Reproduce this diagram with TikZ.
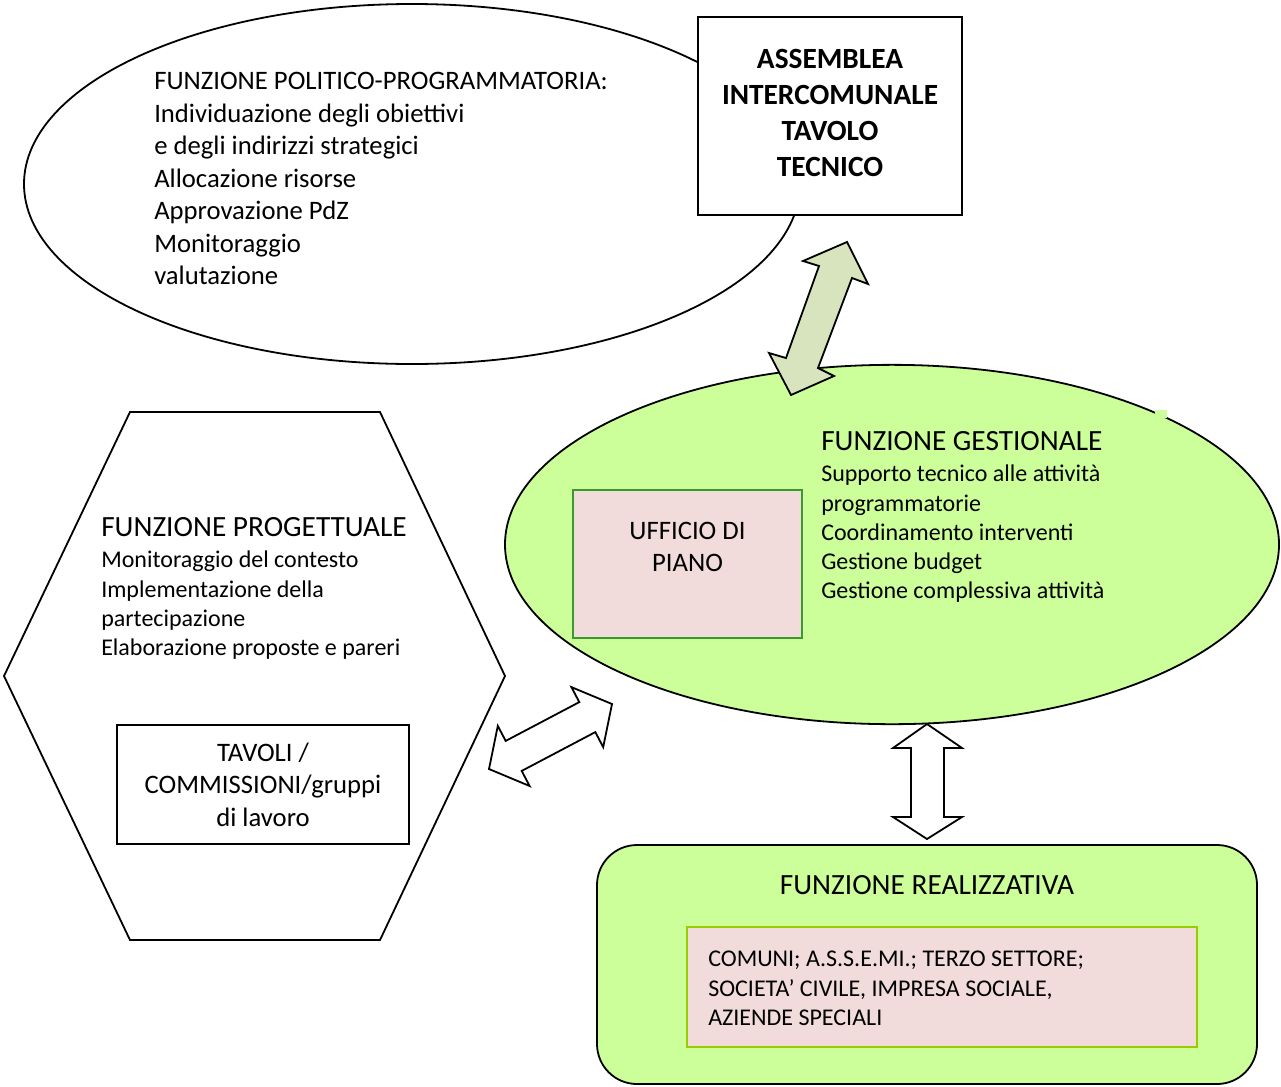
\documentclass[tikz,border=0pt]{standalone}
\usepackage{fontspec}
\setmainfont{Carlito}
\usetikzlibrary{shapes.geometric}
\definecolor{lgreen}{HTML}{CCFF99}
\definecolor{arrgreen}{HTML}{D7E4BD}
\definecolor{pinkbox}{HTML}{F2DCDB}
\definecolor{dgreen}{HTML}{3A9A2E}
\definecolor{ygreen}{HTML}{99CC00}
\tikzset{
  line/.style={draw=black, line width=1.35pt},
  txt/.style={inner sep=0pt, align=left, anchor=north west},
  big/.style={font=\fontsize{22}{24.4}\selectfont},
  mid/.style={font=\fontsize{20}{24.4}\selectfont},
  small/.style={font=\fontsize{18}{21.8}\selectfont},
  blockarrow/.style={line, line join=miter},
}
\begin{document}
\begin{tikzpicture}[x=0.75pt,y=-0.75pt]
\useasboundingbox (0,0) rectangle (1281,1086);
% political ellipse
\node[ellipse, line, fill=white, minimum width=582pt, minimum height=270pt, inner sep=0pt] (pol) at (412,184) {};
\node[txt, mid] (poltxt) at (154,72) {FUNZIONE POLITICO-PROGRAMMATORIA:\\Individuazione degli obiettivi\\e degli indirizzi strategici\\Allocazione risorse\\Approvazione PdZ\\Monitoraggio\\valutazione};
% assemblea
\node[rectangle, line, fill=white, minimum width=198pt, minimum height=148.5pt] (ass) at (830,116) {};
\node[align=center, inner sep=0pt, font=\bfseries\fontsize{22}{27}\selectfont] (asst) at (830,113) {ASSEMBLEA\\INTERCOMUNALE\\TAVOLO\\TECNICO};
% hexagon
\coordinate (h1) at (130,412);
\coordinate (h2) at (380,412);
\coordinate (h3) at (505,676);
\coordinate (h4) at (380,940);
\coordinate (h5) at (130,940);
\coordinate (h6) at (4,676);
\draw[line, fill=white, line join=miter] (h1) -- (h2) -- (h3) -- (h4) -- (h5) -- (h6) -- cycle;
\node[txt, big] (progt) at (101,517) {FUNZIONE PROGETTUALE};
\node[txt, small] (progl) at (101,551) {Monitoraggio del contesto\\Implementazione della\\partecipazione\\Elaborazione proposte e pareri};
\node[rectangle, line, fill=white, minimum width=219pt, minimum height=89.25pt, align=center,
  font=\fontsize{20}{24.5}\selectfont] (tav) at (263,784.5) {TAVOLI /\\COMMISSIONI/gruppi\\di lavoro};
% gestional ellipse
\node[ellipse, line, fill=lgreen, minimum width=580.5pt, minimum height=269.5pt, inner sep=0pt] (gest) at (892,544.5) {};
\fill[lgreen] (1155,410) rectangle (1167,418);
\node[rectangle, draw=dgreen, line width=1.2pt, fill=pinkbox, minimum width=171.75pt, minimum height=111pt] (uff) at (687.5,564) {};
\node[align=center, inner sep=0pt, font=\fontsize{20}{24}\selectfont] (ufft) at (687.5,547) {UFFICIO DI\\PIANO};
\node[txt, big] (gestt) at (821,431) {FUNZIONE GESTIONALE};
\node[txt, small] (gestl) at (821,465) {Supporto tecnico alle attività\\programmatorie\\Coordinamento interventi\\Gestione budget\\Gestione complessiva attività};
% realizzativa
\node[rectangle, rounded corners=30pt, line, fill=lgreen, minimum width=495pt, minimum height=179.25pt] (real) at (927,964.5) {};
\node[inner sep=0pt, font=\fontsize{22}{24}\selectfont] (realt) at (927,885) {FUNZIONE REALIZZATIVA};
\node[rectangle, draw=ygreen, line width=1.6pt, fill=pinkbox, minimum width=382.5pt, minimum height=90pt] (inn) at (942,987) {};
\node[txt, font=\fontsize{18}{22.1}\selectfont] (innt) at (708,951) {COMUNI; A.S.S.E.MI.; TERZO SETTORE;\\SOCIETA’ CIVILE, IMPRESA SOCIALE,\\AZIENDE SPECIALI};
% block arrows
\draw[blockarrow, fill=arrgreen] (847,242) -- (868,284) -- (852,278) -- (818,368) -- (834,376) -- (791,395) -- (769,353) -- (786,358) -- (819,266) -- (803,261) -- cycle;
\draw[blockarrow, fill=white] (612,704) -- (603.2,747.1) -- (595.3,732.1) -- (521.7,770.9) -- (529.6,786) -- (489,769) -- (497.8,725.9) -- (505.7,740.9) -- (579.3,702.1) -- (571.4,687.1) -- cycle;
\draw[blockarrow, fill=white] (927,724) -- (962,748) -- (944,748) -- (944,817) -- (962,817) -- (927,839) -- (893,817) -- (911,817) -- (911,748) -- (893,748) -- cycle;
\end{tikzpicture}
\end{document}
